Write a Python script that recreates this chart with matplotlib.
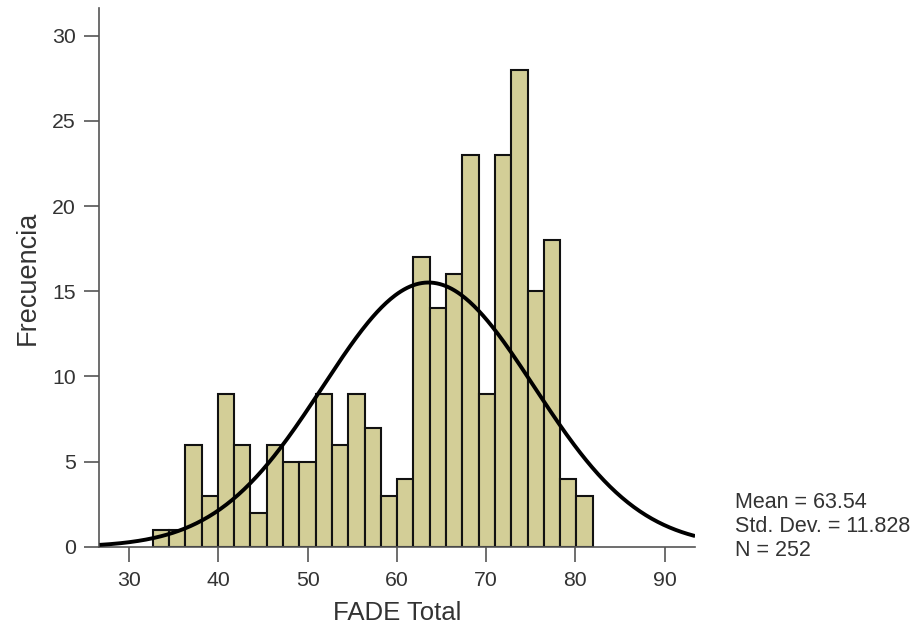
import numpy as np
import matplotlib
matplotlib.use("Agg")
import matplotlib.pyplot as plt

# ---- data ----
counts = [1, 1, 6, 3, 9, 6, 2, 6, 5, 5, 9, 6, 9, 7, 3, 4,
          17, 14, 16, 23, 9, 23, 28, 15, 18, 4, 3]
bin_start = 32.66
bin_width = 1.825
mean_val = 63.54
std_val = 11.828
n_val = 252
x_ticks = [30, 40, 50, 60, 70, 80, 90]
y_ticks = [0, 5, 10, 15, 20, 25, 30]
x_label = "FADE Total"
y_label = "Frecuencia"
stats_lines = ["Mean = 63.54", "Std. Dev. = 11.828", "N = 252"]

plt.rcParams['font.family'] = ['Liberation Sans', 'DejaVu Sans']

fig = plt.figure(figsize=(9.17, 6.36), dpi=100)
ax = fig.add_axes([0.1085, 0.140, 0.6495, 0.847])

edges = bin_start + bin_width * np.arange(len(counts))
ax.bar(edges, counts, width=bin_width, align='edge', color='#D3CE97',
       edgecolor='#111111', linewidth=1.5, zorder=2)

xlim = (26.7, 93.4)
xs = np.linspace(xlim[0], xlim[1], 400)
ys = n_val * bin_width / (std_val * np.sqrt(2 * np.pi)) * np.exp(-0.5 * ((xs - mean_val) / std_val) ** 2)
ax.plot(xs, ys, color='black', linewidth=2.8, zorder=3, solid_capstyle='butt')

ax.set_xlim(*xlim)
ax.set_ylim(0, 31.6)
ax.set_xticks(x_ticks)
ax.set_yticks(y_ticks)

for s in ['top', 'right']:
    ax.spines[s].set_visible(False)
for s in ['left', 'bottom']:
    ax.spines[s].set_color('#555555')
    ax.spines[s].set_linewidth(1.2)

ax.tick_params(axis='both', direction='out', length=11, width=1.2,
               color='#555555', labelsize=15.3, labelcolor='#333333', pad=6)

ax.set_xlabel(x_label, fontsize=18.5, color='#333333', labelpad=8)
ax.set_ylabel(y_label, fontsize=19.5, color='#333333', labelpad=8)

ys_px = [502, 526, 550]
for line, ypx in zip(stats_lines, ys_px):
    fig.text(735 / 917, 1 - ypx / 636, line, fontsize=15.5, color='#333333',
             ha='left', va='center')

fig.savefig("out.png", dpi=100)
